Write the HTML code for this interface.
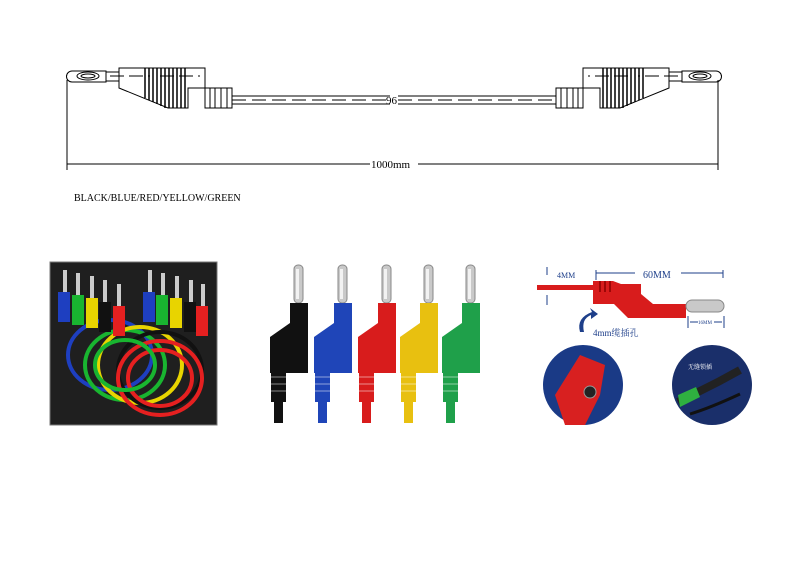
<!DOCTYPE html>
<html><head><meta charset="utf-8"><style>
html,body{margin:0;padding:0;background:#fff;width:800px;height:565px;overflow:hidden}
svg{display:block}
text{font-family:"Liberation Serif","Noto Serif CJK SC",serif}
</style></head><body>
<svg width="800" height="565" viewBox="0 0 800 565" xmlns="http://www.w3.org/2000/svg">
<defs>
<g id="plugL" fill="none" stroke="#000" stroke-width="1">
  <path d="M72,71 h34 v11 h-34 a5,5 0 0 1 0,-11z"/>
  <ellipse cx="88" cy="76" rx="11" ry="4"/>
  <ellipse cx="88" cy="76" rx="7" ry="2"/>
  <path d="M106,72 h13 v9 h-13"/>
  <path d="M119,68 h86 v20 h-17 v20 h-20 l-49,-20z" fill="#fff"/>
  <g stroke-width="1.5">
  <path d="M145,68 v30 M149,68 v32 M153,68 v34 M157,68 v36 M161,68 v38 M165,68 v40 M169,68 v40 M173,68 v40 M177,68 v40 M181,68 v40 M185,68 v40"/>
  </g>
  <path d="M205,88 h27 v20 h-27z" fill="#fff"/>
  <path d="M210,88 v20 M215,88 v20 M221,88 v20 M227,88 v20"/>
  <path d="M110,76 h40 M160,76 h40" stroke-dasharray="14 5"/>
</g>
<g id="mplug">
  <rect x="-4" y="0" width="9" height="38" rx="4" fill="#c9c9c9" stroke="#888" stroke-width="1"/>
  <rect x="-2" y="4" width="3" height="30" fill="#f2f2f2"/>
  <path d="M-8,38 h18 v70 h-38 v-36 l20,-14z" fill="currentColor"/>
  <rect x="-27" y="107" width="15" height="30" fill="currentColor"/>
  <path d="M-28,112 h17 M-28,119 h17 M-28,126 h17" stroke="#fff" stroke-opacity="0.25" stroke-width="2"/>
  <rect x="-24" y="136" width="9" height="22" fill="currentColor"/>
</g>
</defs>

<use href="#plugL"/>
<g transform="translate(788,0) scale(-1,1)"><use href="#plugL"/></g>
<path d="M232,96 h158 M232,104 h158 M398,96 h158 M398,104 h158" stroke="#000" fill="none"/>
<path d="M232,100 h158 M398,100 h158" stroke="#000" stroke-dasharray="14 6" fill="none"/>
<text x="386" y="104" font-size="11">96</text>
<path d="M67,80 V170 M718,80 V170" stroke="#000"/>
<path d="M67,164 H370 M418,164 H718" stroke="#000"/>
<text x="371" y="168" font-size="11">1000mm</text>
<text x="74" y="201" font-size="10">BLACK/BLUE/RED/YELLOW/GREEN</text>

<rect x="50" y="262" width="167" height="163" fill="#1f1f1f" stroke="#777"/>
<g fill="none" stroke-width="4">
  <ellipse cx="110" cy="355" rx="42" ry="35" stroke="#1e3fc0"/>
  <ellipse cx="125" cy="365" rx="40" ry="35" stroke="#19b530"/>
  <ellipse cx="140" cy="365" rx="42" ry="38" stroke="#e8d400"/>
  <ellipse cx="160" cy="370" rx="42" ry="38" stroke="#111" />
  <ellipse cx="160" cy="378" rx="42" ry="37" stroke="#e52020"/>
  <ellipse cx="160" cy="378" rx="32" ry="28" stroke="#e52020"/>
  <ellipse cx="125" cy="365" rx="30" ry="25" stroke="#19b530"/>
</g>
<g>
  <rect x="63" y="270" width="4" height="22" fill="#ccc"/><rect x="58" y="292" width="12" height="30" fill="#1e3fc0"/>
  <rect x="76" y="273" width="4" height="22" fill="#ccc"/><rect x="72" y="295" width="12" height="30" fill="#19b530"/>
  <rect x="90" y="276" width="4" height="22" fill="#ccc"/><rect x="86" y="298" width="12" height="30" fill="#e8d400"/>
  <rect x="103" y="280" width="4" height="22" fill="#ccc"/><rect x="99" y="302" width="12" height="30" fill="#111"/>
  <rect x="117" y="284" width="4" height="22" fill="#ccc"/><rect x="113" y="306" width="12" height="30" fill="#e52020"/>
  <rect x="148" y="270" width="4" height="22" fill="#ccc"/><rect x="143" y="292" width="12" height="30" fill="#1e3fc0"/>
  <rect x="161" y="273" width="4" height="22" fill="#ccc"/><rect x="156" y="295" width="12" height="30" fill="#19b530"/>
  <rect x="175" y="276" width="4" height="22" fill="#ccc"/><rect x="170" y="298" width="12" height="30" fill="#e8d400"/>
  <rect x="189" y="280" width="4" height="22" fill="#ccc"/><rect x="184" y="302" width="12" height="30" fill="#111"/>
  <rect x="201" y="284" width="4" height="22" fill="#ccc"/><rect x="196" y="306" width="12" height="30" fill="#e52020"/>
</g>

<use href="#mplug" transform="translate(298,265)" style="color:#111"/>
<use href="#mplug" transform="translate(342,265)" style="color:#1f45b8"/>
<use href="#mplug" transform="translate(386,265)" style="color:#d81c1c"/>
<use href="#mplug" transform="translate(428,265)" style="color:#e8c010"/>
<use href="#mplug" transform="translate(470,265)" style="color:#1fa04a"/>

<rect x="537" y="285" width="60" height="5" fill="#d81c1c"/>
<path d="M593,281 h20 l8,3 h20 v10 l12,10 h33 v14 h-58 l-14,-14 h-21z" fill="#d81c1c"/>
<path d="M600,281 v11 M605,281 v11 M610,281 v11" stroke="#8a0000" stroke-width="1.5"/>
<rect x="686" y="300" width="38" height="12" rx="6" fill="#c9c9c9" stroke="#888"/>
<path d="M547,275 v-8 M547,295 v10" stroke="#1e3f8a"/>
<path d="M596,270 V280 M723,270 V278 M596,273 H635 M681,273 H723 M688,316 V328 M724,316 V328 M690,322 H698 M714,322 H722" stroke="#1e3f8a" stroke-width="1" fill="none"/>
<text x="557" y="278" font-size="8" fill="#1e3f8a" font-family="Liberation Sans,sans-serif">4MM</text>
<text x="643" y="278" font-size="10" fill="#1e3f8a" font-family="Liberation Sans,sans-serif">60MM</text>
<text x="698" y="324" font-size="5" fill="#1e3f8a" font-family="Liberation Sans,sans-serif">16MM</text>
<path d="M580,332 q-4,-14 12,-20 l-2,-4 l8,6 l-7,5 l0,-4 q-10,4 -7,17z" fill="#1e3f8a"/>
<text x="593" y="336" font-size="9" fill="#1e3f8a" font-family="Liberation Sans,'Noto Sans CJK SC',sans-serif">4mm缆插孔</text>
<circle cx="583" cy="385" r="40" fill="#1a3a86"/>
<path d="M565,425 l-10,-30 l25,-40 l25,10 l-5,30 l-15,30z" fill="#d82020"/>
<circle cx="590" cy="392" r="6" fill="#222" stroke="#999"/>
<circle cx="712" cy="385" r="40" fill="#1a2f6a"/>
<path d="M678,402 l40,-20 l22,-12" stroke="#222" stroke-width="8" fill="none"/>
<path d="M678,395 l18,-8 l4,10 l-20,10z" fill="#2fb040"/>
<path d="M690,414 q20,-6 50,-20" stroke="#111" stroke-width="3" fill="none"/>
<text x="688" y="369" font-size="6" fill="#fff" font-family="Liberation Sans,'Noto Sans CJK SC',sans-serif">无缝锁插</text>
</svg>
</body></html>
